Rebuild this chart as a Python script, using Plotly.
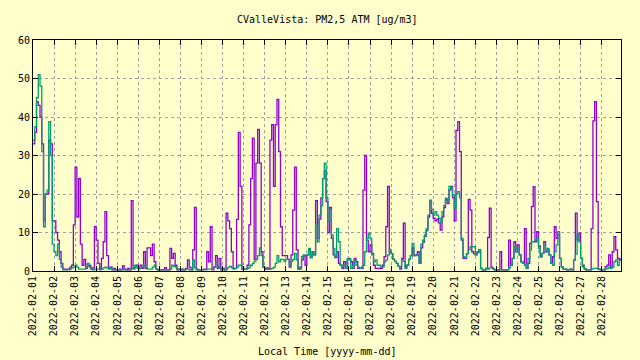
import pandas as pd
import plotly.graph_objects as go

title_text = "CValleVista: PM2,5 ATM [ug/m3]"
x_title = "Local Time [yyyy-mm-dd]"
series_start = "2022-02-01 00:00"
series_step = "2h"
x_end = "2022-02-28 22:00"

# PM2.5 ATM, sensor channel A (purple), 2-hour steps, one row per day
pm_a = [
    33, 36, 44, 43, 40, 33, 13, 20, 20, 34, 33, 13,
    13, 10, 8, 5, 2, 0.5, 0.5, 0.5, 0.5, 1, 1.5, 12,
    27, 14, 24, 7, 1.5, 3, 0.7, 1.5, 1.1, 0.5, 0.8, 11.5,
    8, 2, 0.7, 3.3, 7.6, 15.4, 4, 0.7, 1, 0.3, 0.7, 0.3,
    0.3, 0.5, 0.3, 1.3, 0.5, 0.3, 0.7, 0.3, 18.3, 0.7, 1, 1.5,
    0.7, 1.5, 0.7, 5, 0.7, 6, 6, 4, 7, 2.4, 0.5, 0.3,
    0.3, 0.3, 0.3, 0.9, 0.3, 0.3, 5.9, 3.3, 4.6, 1.5, 0.3, 0.5,
    0.3, 0.5, 0.3, 0.7, 2.9, 1, 0.3, 5.5, 16.5, 0.5, 0.3, 0.3,
    0.3, 0.5, 0.5, 5, 2.4, 11.5, 0.3, 1, 4, 0.7, 3.3, 0.3,
    0.7, 0.3, 15, 13, 11, 5, 0.7, 0.7, 13.4, 36, 22, 0.5,
    0.5, 0.5, 1.5, 12, 24, 34.5, 3, 28, 36.8, 28, 5, 1,
    0.5, 0.8, 0.5, 34, 38, 22, 38, 44.6, 31, 11.5, 4, 4,
    4, 3, 1, 4.2, 15.8, 27, 5.5, 0.5, 1, 2.9, 4, 1.5,
    4.2, 5.5, 3.5, 5, 4.2, 18.3, 8.5, 13.5, 19, 24, 26, 18,
    10, 16.5, 8.5, 4.2, 3.5, 5, 2, 1.5, 0.7, 2.4, 0.7, 2.9,
    2.9, 2.4, 0.7, 3.3, 2.4, 0.7, 0.7, 0.7, 21, 30, 8, 5,
    6.8, 4.6, 1.5, 0.7, 0.7, 0.7, 0.7, 1.5, 3.7, 11.5, 22, 5,
    4.5, 3, 2.5, 2, 1.2, 0.5, 3.3, 12.4, 1, 1.5, 3, 4,
    6, 4, 4.2, 5, 2, 6, 7.5, 9, 10.5, 14, 18, 15,
    13.7, 13, 13.5, 12.5, 10.6, 14, 16.5, 18.5, 17.5, 21, 22, 19,
    13, 36.5, 38.8, 31, 8, 3.3, 3.3, 4.5, 18.6, 15.8, 5, 4.5,
    4.2, 4.8, 5.5, 0.7, 0.3, 0.3, 0.7, 8.7, 16.3, 1, 0.5, 0.3,
    0.3, 0.3, 5, 0.3, 0.3, 0.3, 0.3, 8, 1.5, 3.3, 7.6, 5,
    6.8, 4.2, 2.4, 2, 11, 0.7, 2, 7.2, 16.7, 21.9, 7.6, 10.2,
    6.5, 3.7, 4.6, 7.6, 5, 5.5, 4.2, 2, 3.7, 11.5, 8.5, 9.5,
    3.3, 1, 0.5, 0.5, 0.3, 0.3, 0.5, 0.3, 2.9, 15, 8, 9.8,
    3.3, 1.5, 0.5, 0.3, 0.3, 0.3, 11, 39, 44, 18, 0.5, 0.3,
    0.3, 0.3, 1.1, 1.5, 4.2, 1, 5, 8.9, 5.5, 3.3, 2.9, 3.3,
]

# PM2.5 ATM, sensor channel B (teal)
pm_b = [
    34, 37.5, 45, 51, 48, 31, 11.5, 20, 21, 38.8, 30, 7,
    5, 4, 7, 3, 1, 0.3, 0.3, 0.3, 0.3, 0.5, 0.8, 1,
    1.5, 1, 0.5, 0.5, 0.5, 0.5, 1, 2, 1.5, 0.5, 0.3, 0.5,
    0.5, 0.5, 0.3, 0.5, 0.8, 1, 0.8, 0.5, 1, 0.5, 0.3, 0.3,
    0.3, 0.3, 0.3, 0.5, 0.3, 0.3, 0.3, 0.5, 0.5, 0.5, 1.5, 0.8,
    0.5, 0.8, 1, 1.5, 1, 0.5, 0.5, 0.5, 1, 1.5, 0.5, 0.3,
    0.3, 0.3, 0.3, 0.3, 0.3, 0.3, 0.5, 1.5, 1.2, 1, 0.5, 0.3,
    0.5, 0.3, 0.3, 0.5, 0.5, 0.3, 0.3, 2.9, 0.8, 0.3, 0.3, 0.3,
    0.3, 0.3, 0.3, 0.5, 0.5, 0.5, 0.5, 1, 2.4, 1.2, 0.8, 0.5,
    0.5, 0.3, 0.5, 1, 1.2, 0.8, 0.5, 0.7, 1, 1.5, 1.5, 1,
    0.5, 0.5, 0.7, 1, 1.5, 2, 2.5, 3, 4, 6, 4, 1,
    0.5, 0.5, 0.5, 0.5, 0.7, 1, 2, 4, 2.4, 3, 3, 2.5,
    3, 3, 1.5, 2.5, 3, 4.6, 2.9, 0.5, 0.5, 3.7, 4.2, 4,
    4.2, 5.9, 3.5, 5, 4.2, 12, 7.6, 14.5, 17, 24, 28, 19,
    13, 16, 9.4, 5.9, 3.7, 11, 7.6, 1.5, 1.1, 1.5, 0.7, 3.3,
    3.3, 0.7, 1.5, 2.9, 1.5, 1, 0.7, 1, 1.5, 5, 8.5, 9.8,
    8.5, 4.2, 2.4, 2.9, 1.5, 1.5, 1, 1, 2.4, 2.9, 4.2, 5.6,
    4.5, 3, 2.5, 2, 1.2, 1, 2.9, 2.5, 0.7, 1.5, 3, 4,
    7.2, 4, 4, 4.2, 2, 7, 8, 9.4, 11, 14.5, 18.4, 16,
    14.5, 15.4, 14.5, 13.7, 12.4, 15.4, 17, 18.9, 18, 22, 21.5, 19.7,
    16.3, 20, 20.6, 19, 8.5, 3.7, 3.5, 4.5, 5.5, 6.3, 6.3, 6.3,
    4.2, 5, 5.5, 0.7, 0.3, 0.3, 0.7, 0.5, 0.8, 0.8, 0.5, 0.3,
    0.3, 0.3, 0.3, 0.3, 0.3, 0.3, 0.3, 0.8, 1.5, 3.3, 6.3, 5,
    5.9, 4.2, 2.4, 2, 1.5, 0.7, 3.3, 5.5, 7.6, 7.6, 8, 8.5,
    5.9, 3.7, 4.6, 6.8, 5, 5.9, 4.2, 2, 1.5, 5, 6.8, 10.2,
    3.3, 1.1, 0.5, 0.5, 0.3, 0.3, 0.5, 0.3, 2.9, 4.4, 9.4, 7.6,
    3.3, 1.1, 0.7, 0.3, 0.3, 0.3, 0.5, 0.7, 0.7, 0.7, 0.5, 0.5,
    0.3, 0.3, 0.5, 0.7, 1, 0.7, 1, 2.4, 2.9, 1.5, 2.9, 3.3,
]

y_ticks = [0, 10, 20, 30, 40, 50, 60]
tick_days = pd.date_range("2022-02-01", "2022-02-28", freq="D")
tick_labels = [d.strftime("%Y-%m-%d") for d in tick_days]

times = pd.date_range(series_start, periods=len(pm_a), freq=series_step)

BG = "#ffffcc"
FONT = "DejaVu Sans Mono"

fig = go.Figure()
fig.add_trace(go.Scatter(x=times, y=pm_a, mode="lines",
                         line=dict(color="#9400d3", width=1.3, shape="hv")))
fig.add_trace(go.Scatter(x=times, y=pm_b, mode="lines",
                         line=dict(color="#009e73", width=1.3, shape="hv")))

axis_common = dict(
    showline=True, linecolor="black", linewidth=1, mirror="ticks",
    ticks="inside", ticklen=5, tickcolor="black", tickwidth=1,
    showgrid=True, gridcolor="#a0a0a0", gridwidth=1, griddash="3px,3px",
    zeroline=False, automargin=False,
    tickfont=dict(family=FONT, size=10, color="black"),
)

fig.update_layout(
    width=640, height=360,
    margin=dict(l=33, r=19, t=40, b=89, pad=0, autoexpand=False),
    paper_bgcolor=BG, plot_bgcolor=BG,
    showlegend=False,
    font=dict(family=FONT, size=10, color="black"),
    xaxis=dict(type="date", range=[times[0], x_end],
               tickvals=tick_days, ticktext=tick_labels, tickangle=-90,
               **axis_common),
    yaxis=dict(range=[0, 60], tickvals=y_ticks, **axis_common),
    annotations=[
        dict(text=title_text, xref="paper", yref="paper", x=0.5,
             y=1 + 21 / 231, xanchor="center", yanchor="middle",
             showarrow=False, font=dict(family=FONT, size=10)),
        dict(text=x_title, xref="paper", yref="paper", x=0.5,
             y=-80 / 231, xanchor="center", yanchor="middle",
             showarrow=False, font=dict(family=FONT, size=10)),
    ],
)

fig.write_html(
    "out.html",
    config={"displayModeBar": False},
    post_script="document.body.style.margin='0';document.body.style.background='%s';" % BG,
)
